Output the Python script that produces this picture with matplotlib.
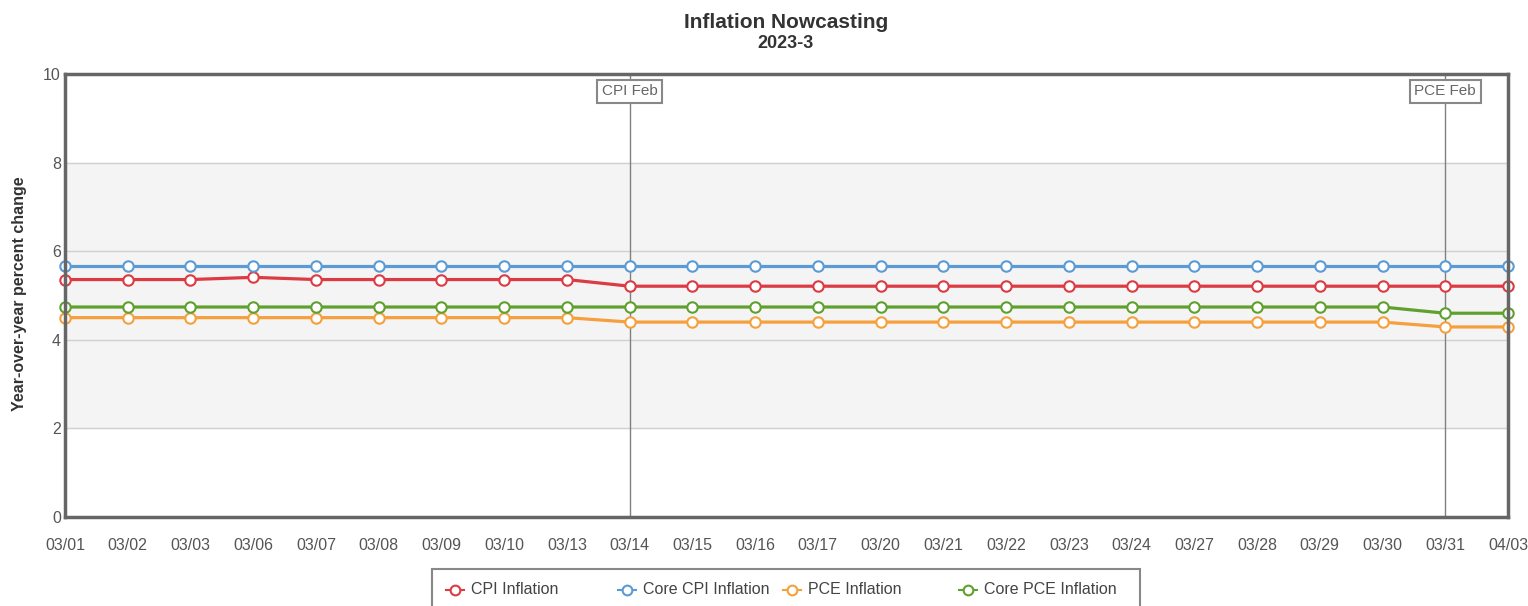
import matplotlib
matplotlib.use("Agg")
import matplotlib.pyplot as plt
from matplotlib.lines import Line2D
from matplotlib.patches import Rectangle

plt.rcParams["font.family"] = ["Liberation Sans", "DejaVu Sans"]

dates = ["03/01", "03/02", "03/03", "03/06", "03/07", "03/08", "03/09", "03/10",
         "03/13", "03/14", "03/15", "03/16", "03/17", "03/20", "03/21", "03/22",
         "03/23", "03/24", "03/27", "03/28", "03/29", "03/30", "03/31", "04/03"]

cpi = [5.36, 5.36, 5.36, 5.41, 5.36, 5.36, 5.36, 5.36, 5.36] + [5.21] * 15
core_cpi = [5.66] * 24
pce = [4.50] * 9 + [4.40] * 13 + [4.29] * 2
core_pce = [4.74] * 22 + [4.60] * 2

events = {"CPI Feb": "03/14", "PCE Feb": "03/31"}

series = [
    ("CPI Inflation", cpi, "#dc3b44"),
    ("Core CPI Inflation", core_cpi, "#5b9bd5"),
    ("PCE Inflation", pce, "#f5a03c"),
    ("Core PCE Inflation", core_pce, "#5fa02e"),
]

W, H = 1528, 606
fig = plt.figure(figsize=(W / 100, H / 100), dpi=100)
ax = fig.add_axes([65 / W, 1 - 517 / H, 1443 / W, 443 / H])

x = list(range(len(dates)))
ax.axhspan(2, 8, color="#f4f4f4", zorder=0)
for yv in [2, 4, 6, 8]:
    ax.axhline(yv, color="#d0d0d0", lw=1, zorder=1)

for label, date in events.items():
    i = dates.index(date)
    ax.axvline(i, color="#808080", lw=1, zorder=2)
    ax.text(i, 9.61, label, ha="center", va="center", fontsize=11, color="#666666",
            bbox=dict(boxstyle="square,pad=0.3", fc="white", ec="#888888", lw=1.5),
            zorder=6)

for label, vals, col in series:
    ax.plot(x, vals, color=col, lw=2.3, marker="o", ms=7.5, mfc="white",
            mec=col, mew=1.5, label=label, zorder=4, clip_on=False)

ax.set_xlim(0, len(dates) - 1)
ax.set_ylim(0, 10)
ax.set_yticks([0, 2, 4, 6, 8, 10])
ax.set_xticks(x)
ax.set_xticklabels(dates)
ax.tick_params(length=0, labelsize=11.5, labelcolor="#555555")
ax.tick_params(axis="x", pad=15)
ax.tick_params(axis="y", pad=3)
for s in ax.spines.values():
    s.set_color("#666666")
    s.set_linewidth(2.5)
    s.set_zorder(5)

fig.text(20 / W, 1 - 294 / H, "Year-over-year percent change", rotation=90,
         ha="center", va="center", fontsize=11.5, fontweight="bold", color="#333333")

fig.text(786 / W, 1 - 22 / H, "Inflation Nowcasting", ha="center", va="center",
         fontsize=15, fontweight="bold", color="#333333")
fig.text(786 / W, 1 - 44 / H, "2023-3", ha="center", va="center",
         fontsize=13, fontweight="bold", color="#333333")

# legend box, drawn by hand to match the spacing of the original
fig.patches.append(Rectangle((432 / W, -0.02), 708 / W, 0.02 + 1 - 569 / H,
                             transform=fig.transFigure, fc="white", ec="#888888",
                             lw=1.5, zorder=1))
leg_marker_x = [455, 627, 792, 968]
leg_y = 1 - 590 / H
for (label, vals, col), mx in zip(series, leg_marker_x):
    fig.lines.append(Line2D([(mx - 9) / W, (mx + 9) / W], [leg_y, leg_y],
                            transform=fig.transFigure, color=col, lw=1.5, zorder=2))
    fig.lines.append(Line2D([mx / W], [leg_y], transform=fig.transFigure, color=col,
                            marker="o", ms=7, mfc="white", mec=col, mew=1.5, zorder=3))
    fig.text((mx + 16) / W, leg_y, label, ha="left", va="center", fontsize=11.5,
             color="#444444", zorder=3)

fig.savefig("out.png", dpi=100)
